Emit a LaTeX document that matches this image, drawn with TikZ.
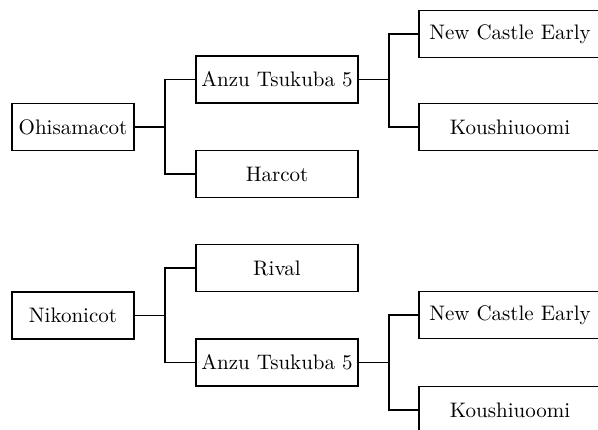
\documentclass[tikz,border=0pt]{standalone}
\usepackage{tikz}

\tikzset{
  cultivar/.style={draw,line width=0.7pt,inner sep=0pt,minimum height=23.5pt,
    font=\fontsize{10.5}{12}\selectfont},
  rootbox/.style={cultivar,minimum width=61pt},
  midbox/.style={cultivar,minimum width=81pt},
  leafbox/.style={cultivar,minimum width=91pt},
  link/.style={line width=0.7pt}
}

\begin{document}
\begin{tikzpicture}[x=0.5pt,y=-0.5pt]
		\useasboundingbox (0,0) rectangle (598,429);
		\clip (0,0) rectangle (598,429);
		% upper tree
		\node[rootbox] (ohisa) at (73,127) {Ohisamacot};
		\node[midbox] (anzuA) at (277,79.5) {Anzu Tsukuba 5};
		\node[midbox] (harcot) at (277,174) {Harcot};
		\node[leafbox] (nceA) at (510,34) {New Castle Early};
		\node[leafbox] (koushiA) at (510,127) {Koushiuoomi};
		\coordinate (jA1) at (165,127);
		\coordinate (jA2) at (389,79.5);
		%
		\draw[link] (ohisa) -- (jA1);
		\draw[link] (anzuA.west) -| (jA1) |- (harcot.west);
		\draw[link] (anzuA) -- (jA2);
		\draw[link] (nceA.west) -| (jA2) |- (koushiA.west);
		% lower tree
		\node[rootbox] (niko) at (73,315.5) {Nikonicot};
		\node[midbox] (rival) at (277,268) {Rival};
		\node[midbox] (anzuB) at (277,362.5) {Anzu Tsukuba 5};
		\node[leafbox] (nceB) at (510,315) {New Castle Early};
		\node[leafbox] (koushiB) at (510,410) {Koushiuoomi};
		\coordinate (jB1) at (165,315.5);
		\coordinate (jB2) at (389,362.5);
		%
		\draw[link] (niko) -- (jB1);
		\draw[link] (rival.west) -| (jB1) |- (anzuB.west);
		\draw[link] (anzuB) -- (jB2);
		\draw[link] (nceB.west) -| (jB2) |- (koushiB.west);
\end{tikzpicture}
\end{document}
